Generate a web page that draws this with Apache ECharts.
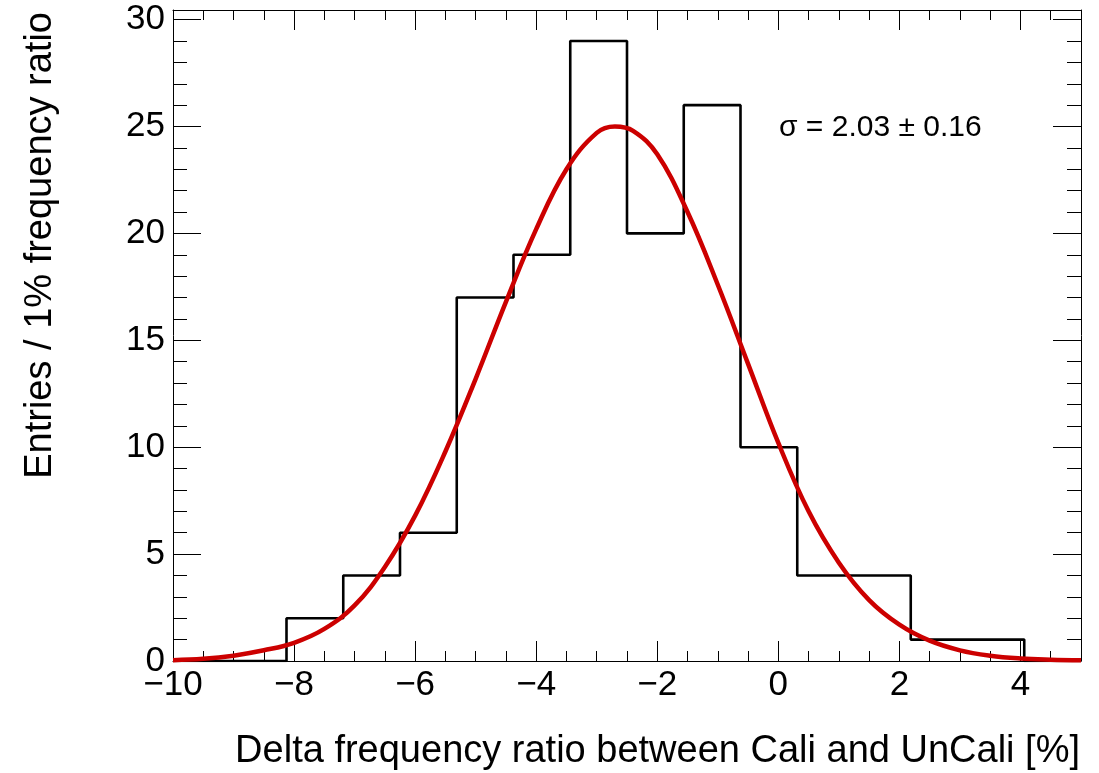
<!DOCTYPE html>
<html>
<head>
<meta charset="utf-8">
<script src="https://cdn.jsdelivr.net/npm/echarts@6/dist/echarts.min.js"></script>
<style>
  html, body { margin: 0; padding: 0; background: #ffffff; }
  #chart { width: 1099px; height: 773px; }
</style>
</head>
<body>
<div id="chart"></div>
<script>
// Histogram: 16 equal-width bins spanning [-10, 5]
const histMin = -10;
const histMax = 5;
const binCounts = [0, 0, 2, 4, 6, 17, 19, 29, 20, 26, 10, 4, 4, 1, 1, 0];

// Gaussian fit curve, sampled along the x range
const fitX = [-10, -9.5, -9, -8.5, -8, -7.5, -7, -6.5, -6, -5.5, -5, -4.5, -4, -3.5, -3, -2.7,
              -2.4, -2, -1.5, -1, -0.5, 0, 0.5, 1, 1.5, 2, 2.5, 3, 3.5, 4, 4.5, 5];
const fitY = [0.04, 0.1, 0.25, 0.5, 0.85, 1.5, 2.6, 4.4, 6.8, 9.8, 13.2, 16.8, 20.2, 23.0, 24.7, 25.0,
              24.8, 23.7, 21.0, 17.6, 13.9, 10.2, 7.0, 4.6, 2.85, 1.7, 0.95, 0.5, 0.25, 0.12, 0.06, 0.03];

// Fit result annotation
const sigmaValue = '2.03';
const sigmaError = '0.16';

// Axis ranges and tick spacing
const xMin = -10, xMax = 5, xStep = 2;
const yMin = 0, yMax = 30.45, yStep = 5;

const xTitle = 'Delta frequency ratio between Cali and UnCali [%]';
const yTitle = 'Entries / 1% frequency ratio';

const FONT = '"Liberation Sans", Arial, Helvetica, sans-serif';

const binWidth = (histMax - histMin) / binCounts.length;
const histPoints = binCounts.map((c, i) => [histMin + i * binWidth, c]);
histPoints.push([histMax, binCounts[binCounts.length - 1]]);

const fitPoints = fitX.map((x, i) => [x, fitY[i]]);

// Only label whole multiples of the step; use a typographic minus sign
const minusFmt = (v, step) => {
  if (Math.abs(v / step - Math.round(v / step)) > 1e-6) return '';
  return String(v).replace('-', '\u2212');
};

const frameLine = { show: true, onZero: false, lineStyle: { color: '#000', width: 1 } };
const tickStyle = { color: '#000', width: 1 };

const chart = echarts.init(document.getElementById('chart'), null, { renderer: 'canvas' });

chart.setOption({
  backgroundColor: '#ffffff',
  animation: false,
  grid: { left: 173, right: 18, top: 10, bottom: 112, containLabel: false },
  xAxis: [
    {
      type: 'value', min: xMin, max: xMax, interval: xStep, position: 'bottom',
      axisLine: frameLine,
      axisTick: { show: true, inside: true, length: 20, lineStyle: tickStyle },
      minorTick: { show: true, splitNumber: 4, length: 10, lineStyle: tickStyle },
      splitLine: { show: false },
      axisLabel: {
        show: true, margin: 7, fontSize: 35, color: '#000', fontFamily: FONT,
        showMaxLabel: false,
        formatter: v => minusFmt(v, xStep)
      }
    },
    {
      type: 'value', min: xMin, max: xMax, interval: xStep, position: 'top',
      axisLine: frameLine,
      axisTick: { show: true, inside: true, length: 20, lineStyle: tickStyle },
      minorTick: { show: true, splitNumber: 4, length: 10, lineStyle: tickStyle },
      splitLine: { show: false },
      axisLabel: { show: false }
    }
  ],
  yAxis: [
    {
      type: 'value', min: yMin, max: yMax, interval: yStep, position: 'left',
      axisLine: frameLine,
      axisTick: { show: true, inside: true, length: 28, lineStyle: tickStyle },
      minorTick: { show: true, splitNumber: 5, length: 14, lineStyle: tickStyle },
      splitLine: { show: false },
      axisLabel: {
        show: true, margin: 8, fontSize: 35, color: '#000', fontFamily: FONT,
        showMaxLabel: false,
        formatter: v => minusFmt(v, yStep)
      }
    },
    {
      type: 'value', min: yMin, max: yMax, interval: yStep, position: 'right',
      axisLine: frameLine,
      axisTick: { show: true, inside: true, length: 28, lineStyle: tickStyle },
      minorTick: { show: true, splitNumber: 5, length: 14, lineStyle: tickStyle },
      splitLine: { show: false },
      axisLabel: { show: false }
    }
  ],
  series: [
    {
      name: 'histogram',
      type: 'line',
      xAxisIndex: 0, yAxisIndex: 0,
      data: histPoints,
      step: 'end',
      symbol: 'none',
      lineStyle: { color: '#000', width: 2.6 },
      z: 2
    },
    {
      name: 'fit',
      type: 'line',
      xAxisIndex: 0, yAxisIndex: 0,
      data: fitPoints,
      smooth: 0.4,
      symbol: 'none',
      lineStyle: { color: '#cc0000', width: 4.5 },
      z: 3
    }
  ],
  graphic: [
    {
      type: 'text', x: 779, y: 128,
      style: {
        text: '\u03c3 = ' + sigmaValue + ' \u00b1 ' + sigmaError,
        font: '30px ' + FONT, fill: '#000', align: 'left', verticalAlign: 'middle'
      }
    },
    {
      type: 'text', x: 1080, y: 752,
      style: { text: xTitle, font: '38px ' + FONT, fill: '#000', align: 'right', verticalAlign: 'middle' }
    },
    {
      type: 'text', x: 41, y: 12, rotation: Math.PI / 2,
      style: { text: yTitle, font: '38px ' + FONT, fill: '#000', align: 'right', verticalAlign: 'middle' }
    }
  ]
});
</script>
</body>
</html>
